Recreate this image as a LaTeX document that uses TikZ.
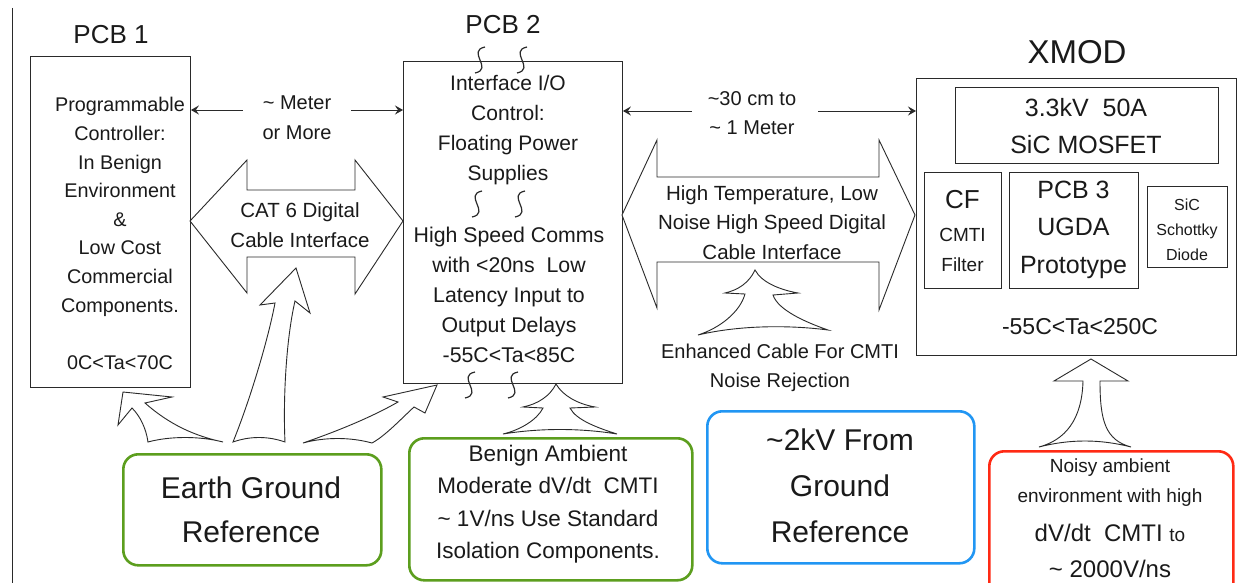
\documentclass[tikz,border=0pt]{standalone}
\usepackage{fontspec}
\setmainfont{Liberation Sans}
\usetikzlibrary{arrows.meta}
\definecolor{boxline}{HTML}{2A2A2A}
\definecolor{txt}{HTML}{1A1A1A}
\definecolor{ggreen}{HTML}{5C9E1E}
\definecolor{gblue}{HTML}{2196F3}
\definecolor{gred}{HTML}{FF2A14}
\newcommand{\fs}[2]{\fontsize{#1}{#2}\selectfont}
\tikzset{
  plainbox/.style={draw=boxline, line width=0.9pt, fill=none},
  lbl/.style={text=txt, align=center, inner sep=0pt},
  roundbox/.style={line width=2.6pt, rounded corners=15pt, fill=none},
  fatarrow/.style={draw=boxline, line width=0.9pt, fill=white, line join=miter},
  squig/.style={draw=boxline, line width=1.2pt},
  tipend/.style={-{Stealth[length=8pt,width=9pt,inset=3pt]}},
  tipstart/.style={{Stealth[length=8pt,width=9pt,inset=3pt]}-},
}
\begin{document}
\begin{tikzpicture}[x=1pt,y=-1pt]
\useasboundingbox (0,0) rectangle (1248,583);
\fill[white] (0,0) rectangle (1248,583);
% left border line
\draw[boxline, line width=1pt] (12,8) -- (12,583);

% ---------- PCB 1 ----------
\node[plainbox, minimum width=160pt, minimum height=331pt, anchor=north west] (pcb1) at (30,56) {};
\node[lbl, font=\fs{26}{30}] (pcb1t) at (111,35) {PCB 1};
\node[lbl, font=\fs{19.8}{28.6}] (pcb1txt) at (120,233.5) {Programmable\\Controller:\\In Benign\\Environment\\\&\\Low Cost\\Commercial\\Components.\\[28.6pt]0C<Ta<70C};

% ---------- PCB 2 ----------
\node[plainbox, minimum width=219pt, minimum height=322pt, anchor=north west] (pcb2) at (403,61) {};
\node[lbl, font=\fs{26}{30}] (pcb2t) at (503,25) {PCB 2};
\node[lbl, font=\fs{21}{30}] (pcb2a) at (508,130) {Interface I/O\\Control:\\Floating Power\\Supplies};
\node[lbl, font=\fs{21.3}{30}] (pcb2b) at (509,295) {High Speed Comms\\with <20ns~~Low\\Latency Input to\\Output Delays\\-55C<Ta<85C};
% squiggles
\foreach \sx/\sy in {480/47, 522/47, 477/191, 520/191, 470/372, 513/372}{
  \draw[squig] (\sx+5,\sy) .. controls (\sx-14,\sy+4) and (\sx+14,\sy+22) .. (\sx-5,\sy+26);
}

% ---------- XMOD ----------
\node[plainbox, minimum width=320pt, minimum height=277pt, anchor=north west] (xmod) at (916,78) {};
\node[lbl, font=\fs{33}{36}] (xmodt) at (1077,52) {XMOD};
\node[plainbox, minimum width=263pt, minimum height=76pt, anchor=north west] (mosfet) at (955,87) {};
\node[lbl, font=\fs{25}{37}] (mosfett) at (1086,126.5) {3.3kV~~50A\\SiC MOSFET};
\node[plainbox, minimum width=77pt, minimum height=116pt, anchor=north west] (cf) at (924,172) {};
\node[lbl, font=\fs{26}{30}] (cft) at (962.5,200) {CF};
\node[lbl, font=\fs{19}{30}] (cft2) at (962.5,250) {CMTI\\Filter};
\node[plainbox, minimum width=129pt, minimum height=116pt, anchor=north west] (pcb3) at (1009,172) {};
\node[lbl, font=\fs{25}{37.5}] (pcb3t) at (1073.5,229.5) {PCB 3\\UGDA\\Prototype};
\node[plainbox, minimum width=80pt, minimum height=81pt, anchor=north west] (sic) at (1147,186) {};
\node[lbl, font=\fs{16}{25}] (sict) at (1187,230) {SiC\\Schottky\\Diode};
\node[lbl, font=\fs{23}{28}] (xmodtemp) at (1080,327) {-55C<Ta<250C};

% ---------- dimension arrows ----------
\coordinate (m1a) at (243,110);
\coordinate (m1b) at (351,110);
\draw[boxline, line width=0.9pt, tipstart] (pcb1.east |- m1a) -- (m1a);
\draw[boxline, line width=0.9pt, tipend] (m1b) -- (pcb2.west |- m1b);
\node[lbl, font=\fs{20}{30}] (metert) at (297,118) {\textasciitilde{} Meter\\or More};

\coordinate (m2a) at (692,111);
\coordinate (m2b) at (818,111);
\draw[boxline, line width=0.9pt, tipstart] (pcb2.east |- m2a) -- (m2a);
\draw[boxline, line width=0.9pt, tipend] (m2b) -- (xmod.west |- m2b);
\node[lbl, font=\fs{20}{29}] (cmt) at (752,113.5) {\textasciitilde30 cm to\\\textasciitilde{} 1 Meter};

% ---------- CAT 6 double arrow ----------
\draw[fatarrow] (190,221) -- (247,160) -- (247,190) -- (355,190) -- (355,160) -- (403,221)
  -- (355,294) -- (355,257) -- (247,257) -- (247,293) -- cycle;
\node[lbl, font=\fs{20.5}{30}] (catt) at (300,225.5) {CAT 6 Digital\\Cable Interface};

% ---------- High temperature double arrow ----------
\draw[fatarrow] (622,215) -- (657,140) -- (657,177) -- (879,177) -- (879,140) -- (915,215)
  -- (879,310) -- (879,262) -- (657,262) -- (657,308) -- cycle;
\node[lbl, font=\fs{20.5}{29.5}] (hight) at (772,222.5) {High Temperature, Low\\Noise High Speed Digital\\Cable Interface};

% ---------- Enhanced cable arrow ----------
\draw[fatarrow] (755,270) .. controls (749,283) and (738,290) .. (725,293) -- (745,294)
  .. controls (740,312) and (720,328) .. (698,335)
  .. controls (740,325) and (790,325) .. (828,330)
  .. controls (805,322) and (778,310) .. (773,295) -- (798,293)
  .. controls (781,290) and (762,283) .. (755,270) -- cycle;
\node[lbl, font=\fs{20}{29}] (enht) at (780,367.5) {Enhanced Cable For CMTI\\Noise Rejection};

% ---------- Bottom boxes ----------
\node[roundbox, draw=ggreen, minimum width=258pt, minimum height=111pt, anchor=north west] (earth) at (122,453) {};
\node[lbl, font=\fs{30}{44}] (eartht) at (251,509.5) {Earth Ground\\Reference};

\node[roundbox, draw=ggreen, minimum width=283pt, minimum height=142pt, anchor=north west] (benign) at (408,437) {};
\node[lbl, font=\fs{22.5}{32.5}] (benignt) at (548,504) {Benign Ambient\\Moderate dV/dt~~CMTI\\\textasciitilde{} 1V/ns Use Standard\\Isolation Components.};

\node[roundbox, draw=gblue, minimum width=267pt, minimum height=152pt, anchor=north west] (blue) at (706,410) {};
\node[lbl, font=\fs{30}{46}] (bluet) at (840,486) {\textasciitilde2kV From\\Ground\\Reference};

\node[roundbox, draw=gred, minimum width=244pt, minimum height=150pt, anchor=north west] (red) at (988,450) {};
\node[lbl, font=\fs{19}{30}] (redt1) at (1110,482.5) {Noisy ambient\\environment with high};
\node[lbl, font=\fs{24}{36}] (redt2) at (1110,551) {dV/dt~~CMTI {\fs{19}{36}to}\\\textasciitilde{} 2000V/ns};

% ---------- Earth ground arrows ----------
% left
\draw[fatarrow] (123,392) -- (172,397) -- (145,403)
  .. controls (170,425) and (195,436) .. (223,442)
  .. controls (200,436) and (170,436) .. (148,442)
  .. controls (146,428) and (140,416) .. (132,408) -- (118,425) -- cycle;
% middle
\draw[fatarrow] (296,268) -- (310,313) -- (295,301)
  .. controls (286,340) and (283,400) .. (285,442)
  .. controls (268,436) and (250,436) .. (233,442)
  .. controls (250,400) and (268,340) .. (275,303) -- (260,305) -- cycle;
% right
\draw[fatarrow] (437,385) -- (425,413) -- (414,407)
  .. controls (400,420) and (385,436) .. (372,443)
  .. controls (350,437) and (325,437) .. (303,443)
  .. controls (335,432) and (370,418) .. (398,402) -- (383,397) -- cycle;

% ---------- Benign arrow ----------
\draw[fatarrow] (556,384) .. controls (550,396) and (538,404) .. (523,407) -- (543,408)
  .. controls (537,420) and (520,430) .. (503,434)
  .. controls (540,428) and (580,428) .. (617,434)
  .. controls (598,428) and (576,420) .. (570,408) -- (595,407)
  .. controls (578,404) and (563,396) .. (556,384) -- cycle;

% ---------- XMOD arrow ----------
\draw[fatarrow] (1091,359) -- (1128,381) -- (1100,381)
  .. controls (1100,420) and (1105,440) .. (1131,447)
  .. controls (1100,439) and (1070,439) .. (1039,447)
  .. controls (1065,440) and (1082,420) .. (1083,381) -- (1054,381) -- cycle;
\end{tikzpicture}
\end{document}
